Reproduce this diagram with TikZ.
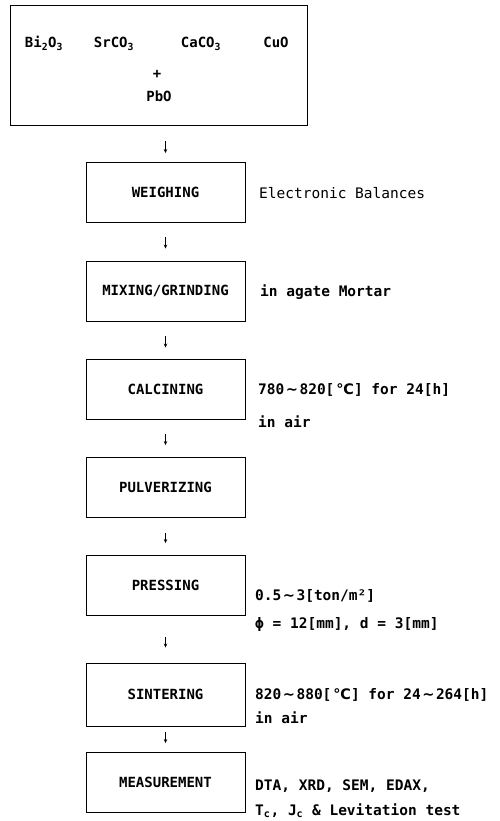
\documentclass[tikz,border=0pt]{standalone}
\usepackage{fontspec}
\setmonofont{DejaVu Sans Mono}
\newfontfamily\symfont{DejaVu Sans}
\usetikzlibrary{arrows.meta,positioning}
\newcommand{\degC}{\hspace{2pt}{\symfont ℃}}
\newcommand{\wave}{\hspace{1.5pt}{\symfont ∼}\hspace{1.5pt}}

\begin{document}
\begin{tikzpicture}[x=1pt,y=-1pt,
	stepbox/.style={draw, line width=0.9pt, minimum width=159pt, minimum height=60pt, inner sep=0pt,
		font=\ttfamily\bfseries\fontsize{14}{16}\selectfont},
	note/.style={anchor=base west, inner sep=0pt, font=\ttfamily\bfseries\fontsize{14.5}{16}\selectfont},
	chem/.style={anchor=base, inner sep=0pt, font=\ttfamily\bfseries\fontsize{14}{16}\selectfont},
	flow/.style={-{Stealth[length=4pt,width=3.5pt]}, line width=0.8pt}]
	\useasboundingbox (0,0) rectangle (499,821);
	
	%raw materials
	\node[draw, line width=0.9pt, minimum width=297pt, minimum height=120pt] (raw) at (158.5,65) {};
	\node[chem] (bi) at (44,48) {Bi\textsubscript{2}O\textsubscript{3}};
	\node[chem] (sr) at (114,48) {SrCO\textsubscript{3}};
	\node[chem] (ca) at (201,48) {CaCO\textsubscript{3}};
	\node[chem] (cu) at (276,48) {CuO};
	\node[chem] (plus) at (157,79) {+};
	\node[chem] (pb) at (159,102) {PbO};
	
	%process steps
	\node[stepbox] (weigh) at (165.5,192.5) {WEIGHING};
	\node[stepbox] (mix) at (165.5,291) {MIXING/GRINDING};
	\node[stepbox] (calc) at (165.5,389) {CALCINING};
	\node[stepbox] (pulv) at (165.5,487.5) {PULVERIZING};
	\node[stepbox] (press) at (165.5,585.5) {PRESSING};
	\node[stepbox, minimum height=63pt] (sint) at (165.5,694.5) {SINTERING};
	\node[stepbox] (meas) at (165.5,782.5) {MEASUREMENT};
	
	%conditions
	\node[note, font=\ttfamily\fontsize{14.5}{16}\selectfont] (n1) at (259,198) {Electronic Balances};
	\node[note] (n2) at (260,296) {in agate Mortar};
	\node[note] (n3) at (258,394) {780\wave820[\degC] for 24[h]};
	\node[note] (n3b) at (258,427) {in air};
	\node[note] (n4) at (255,600) {0.5\wave3[ton/m²]};
	\node[note] (n4b) at (255,628) {ϕ = 12[mm], d = 3[mm]};
	\node[note] (n5) at (255,699) {820\wave880[\degC] for 24\wave264[h]};
	\node[note] (n5b) at (255,723) {in air};
	\node[note] (n6) at (255,790) {DTA, XRD, SEM, EDAX,};
	\node[note] (n6b) at (255,815) {T\textsubscript{c}, J\textsubscript{c} \& Levitation test};
	
	%arrows
	\draw[flow, shorten <=16pt, shorten >=9pt] (raw.south -| weigh.north) -- (weigh.north);
	\draw[flow, shorten <=14pt, shorten >=12pt] (weigh.south) -- (mix.north);
	\draw[flow, shorten <=15pt, shorten >=11pt] (mix.south) -- (calc.north);
	\draw[flow, shorten <=15pt, shorten >=12pt] (calc.south) -- (pulv.north);
	\draw[flow, shorten <=15pt, shorten >=12pt] (pulv.south) -- (press.north);
	\draw[flow, shorten <=21pt, shorten >=15pt] (press.south) -- (sint.north);
	\draw[flow, shorten <=6pt, shorten >=9pt] (sint.south) -- (meas.north);
\end{tikzpicture}
\end{document}
